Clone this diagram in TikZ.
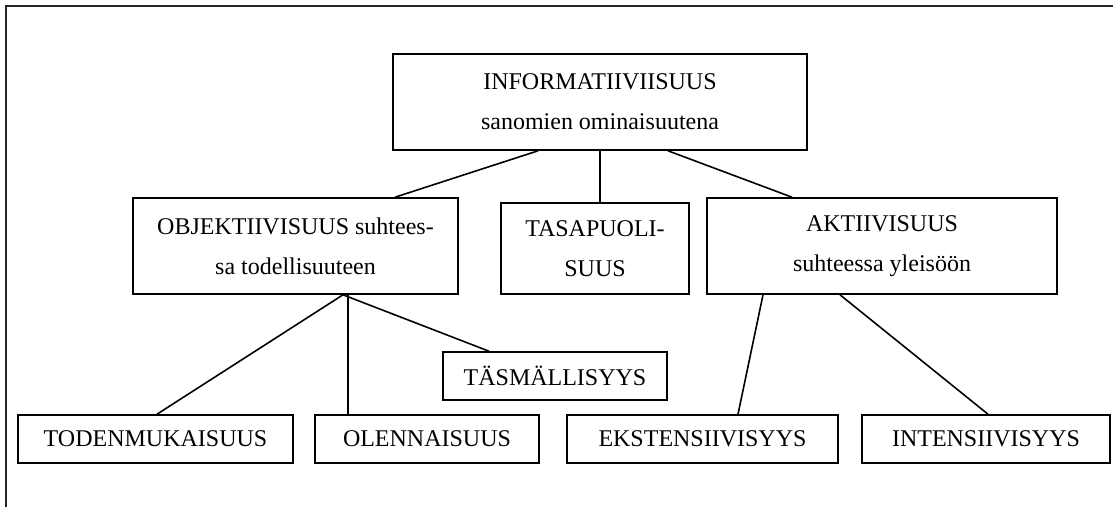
\documentclass[tikz,border=0pt]{standalone}
\usepackage{fontspec}
\setmainfont{Liberation Serif}
\begin{document}
\begin{tikzpicture}[x=1pt,y=-1pt,
  box/.style={draw, line width=1.6pt, inner sep=0pt, align=center,
              font=\fontsize{24}{40}\selectfont},
  link/.style={line width=1.6pt},
  frame/.style={line width=2.6pt, draw=black!85}]
\useasboundingbox (0,0) rectangle (1113,507);

% partial outer frame
\draw[frame] (6,507) -- (6,6) -- (1113,6);

% top level
\node[box, minimum width=414pt, minimum height=96pt] (top) at (600,102)
  {INFORMATIIVIISUUS\\sanomien ominaisuutena};

% second level
\node[box, minimum width=325pt, minimum height=96pt] (obj) at (295.5,246)
  {OBJEKTIIVISUUS suhtees-\\sa todellisuuteen};
\node[box, minimum width=188pt, minimum height=91pt] (tasa) at (595,248.5)
  {TASAPUOLI-\\SUUS};
\node[box, minimum width=350pt, minimum height=96pt] (akt) at (882,246)
  {AKTIIVISUUS\\suhteessa yleisöön};

% third level
\node[box, minimum width=224pt, minimum height=48pt] (tasm) at (555,376)
  {TÄSMÄLLISYYS};
\node[box, minimum width=275pt, minimum height=48pt] (toden) at (155.5,439)
  {TODENMUKAISUUS};
\node[box, minimum width=224pt, minimum height=48pt] (olenn) at (427,439)
  {OLENNAISUUS};
\node[box, minimum width=271pt, minimum height=48pt] (ekst) at (702.5,439)
  {EKSTENSIIVISYYS};
\node[box, minimum width=248pt, minimum height=48pt] (intens) at (986,439)
  {INTENSIIVISYYS};

% connectors
\draw[link] ([xshift=-62pt]top.south) -- ([xshift=99.5pt]obj.north);
\draw[link] (top.south) -- (top.south |- tasa.north);
\draw[link] ([xshift=68pt]top.south) -- ([xshift=-90pt]akt.north);

\draw[link] ([xshift=47.5pt]obj.south) -- ([xshift=1.5pt]toden.north);
\draw[link] ([xshift=52.5pt]obj.south) -- ([xshift=-79pt]olenn.north);
\draw[link] ([xshift=47.5pt]obj.south) -- ([xshift=-66pt]tasm.north);

\draw[link] ([xshift=-119pt]akt.south) -- ([xshift=35.5pt]ekst.north);
\draw[link] ([xshift=-42pt]akt.south) -- ([xshift=2pt]intens.north);
\end{tikzpicture}
\end{document}
